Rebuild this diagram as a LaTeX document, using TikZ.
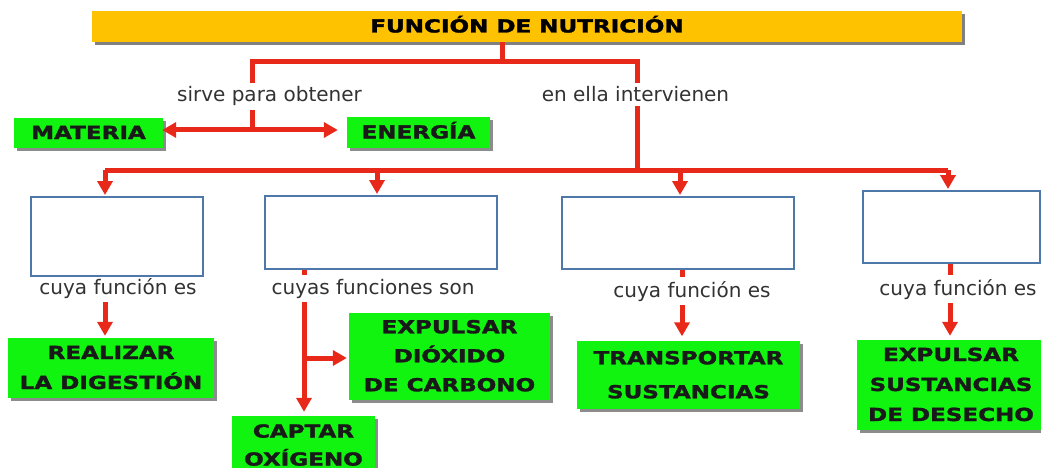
\documentclass[tikz,border=0pt]{standalone}
\usepackage{fontspec}
\setmainfont{DejaVu Sans}
\newfontfamily\heavyfont[FakeBold=1.6]{DejaVu Sans Bold}
\usepackage{graphicx}
\usetikzlibrary{positioning,arrows.meta,shadows}
\definecolor{linered}{RGB}{232,40,24}
\definecolor{titleyellow}{RGB}{255,194,0}
\definecolor{boxgreen}{RGB}{16,244,16}
\definecolor{boxblue}{RGB}{79,120,170}
\definecolor{labelgray}{RGB}{50,50,50}
% heavy capitals, a bit wider than the font
\newcommand{\bigcaps}[2][30pt]{\scalebox{1.28}[1]{\fontsize{18}{#1}\selectfont\heavyfont
  \begin{tabular}{@{}c@{}}#2\end{tabular}}}

\begin{document}
\begin{tikzpicture}[x=1pt, y=-1pt,
conn/.style = {draw=linered, line width=5pt},
arr/.style = {conn, -{Triangle[width=15pt,length=14pt]}},
greenbox/.style = {rectangle, fill=boxgreen, inner sep=0pt, text=black!90,
  drop shadow={shadow xshift=3pt, shadow yshift=-3pt, fill=black!45, opacity=1}},
bluebox/.style = {rectangle, draw=boxblue, line width=2pt, fill=white, inner sep=0pt},
lbl/.style = {anchor=base, font=\fontsize{20}{24}\selectfont, text=labelgray, inner sep=4pt}]
\useasboundingbox (0,0) rectangle (1041,468);

% title
\node[rectangle, fill=titleyellow, minimum width=870pt, minimum height=31pt, inner sep=0pt,
  drop shadow={shadow xshift=3pt, shadow yshift=-3pt, fill=black!50, opacity=1}]
  (title) at (527,26.5) {\bigcaps{FUNCIÓN DE NUTRICIÓN}};

% first level
\node[lbl] (sirve) at (269.5,102) {sirve para obtener};
\node[lbl] (interv) at (635.5,102) {en ella intervienen};
\node[greenbox, minimum width=149pt, minimum height=30pt] (materia) at (88.5,133) {\bigcaps{MATERIA}};
\node[greenbox, minimum width=143pt, minimum height=31pt] (energia) at (418.5,132.5) {\bigcaps{ENERGÍA}};

% empty boxes
\node[bluebox, minimum width=172pt, minimum height=79pt] (org1) at (117,236.5) {};
\node[bluebox, minimum width=232pt, minimum height=73pt] (org2) at (381,232.5) {};
\node[bluebox, minimum width=232pt, minimum height=72pt] (org3) at (678,233) {};
\node[bluebox, minimum width=177pt, minimum height=72pt] (org4) at (951.5,227) {};

\node[lbl] (cuya1) at (118,294) {cuya función es};
\node[lbl] (cuyas2) at (373,294) {cuyas funciones son};
\node[lbl] (cuya3) at (692,297) {cuya función es};
\node[lbl] (cuya4) at (958,295) {cuya función es};

% results
\node[greenbox, minimum width=206pt, minimum height=58pt] (realizar) at (111,368) {\bigcaps{REALIZAR\\LA DIGESTIÓN}};
\node[greenbox, minimum width=201pt, minimum height=87pt] (expulsarco) at (449.5,356.5) {\bigcaps[29pt]{EXPULSAR\\DIÓXIDO\\DE CARBONO}};
\node[greenbox, minimum width=143pt, minimum height=60pt] (captar) at (303.5,446) {\bigcaps[28pt]{CAPTAR\\OXÍGENO}};
\node[greenbox, minimum width=223pt, minimum height=65pt] (transportar) at (688.5,374.5) {\bigcaps[34pt]{TRANSPORTAR\\SUSTANCIAS}};
\node[greenbox, minimum width=188pt, minimum height=86pt] (expulsardes) at (951,385) {\bigcaps{EXPULSAR\\SUSTANCIAS\\DE DESECHO}};

% junctions
\coordinate (top) at (502,62);
\coordinate (lb) at (252,62);
\coordinate (rb) at (637,62);
\coordinate (mid) at (252,130);
\coordinate (low) at (637,170);
\coordinate (d1) at (105,170);
\coordinate (d2) at (377,170);
\coordinate (d3) at (680,170);
\coordinate (d4) at (948,170);
\coordinate (s2) at (304,0);
\coordinate (br) at (304,358);

% connectors
\draw[conn] (title.south -| top) -- (top);
\draw[conn] (sirve.north -| lb) -- (lb) -- (rb) -- (interv.north -| rb);
\draw[conn] (sirve.south -| lb) -- (mid);
\draw[arr, shorten >=-1pt] (mid) -- (materia.east |- mid);
\draw[arr, shorten >=9pt] (mid) -- (energia.west |- mid);
\draw[conn] (interv.south -| rb) -- (low);
\draw[conn] (d1) -- (d4);
\foreach \i in {1,...,4}
  \draw[arr, shorten >=1pt] (d\i) -- (org\i.north -| d\i);

\draw[arr, shorten >=2pt] (cuya1.south -| d1) -- (realizar.north -| d1);
\draw[conn] (org2.south -| s2) -- (cuyas2.north -| s2);
\draw[arr, shorten >=4pt] (cuyas2.south -| s2) -- (captar.north -| s2);
\draw[arr, shorten >=2pt] (br) -- (expulsarco.west |- br);
\draw[conn] (org3.south -| 682,0) -- (cuya3.north -| 682,0);
\draw[arr, shorten >=4pt] (cuya3.south -| 682,0) -- (transportar.north -| 682,0);
\draw[conn] (org4.south -| 950,0) -- (cuya4.north -| 950,0);
\draw[arr, shorten >=4pt] (cuya4.south -| 950,0) -- (expulsardes.north -| 950,0);
\end{tikzpicture}
\end{document}
